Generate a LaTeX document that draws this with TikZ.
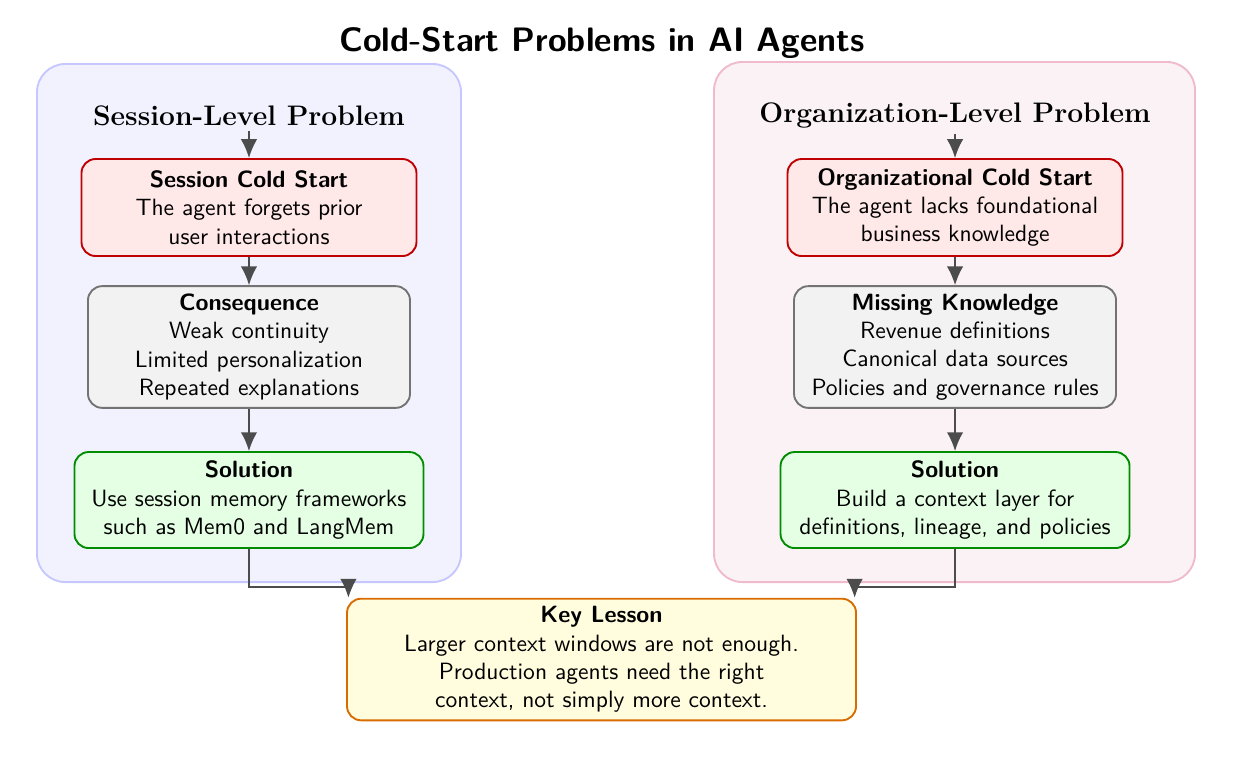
\documentclass[tikz,border=0pt]{standalone}
\usetikzlibrary{arrows.meta,positioning}
\definecolor{orgfill}{RGB}{250,242,245}
\definecolor{orgdraw}{RGB}{240,186,206}

\begin{document}
\begin{tikzpicture}[
      font=\sffamily,
      panel/.style={rounded corners=12pt, line width=0.8pt},
      box/.style={draw, rounded corners=6pt, line width=0.8pt, align=center},
      problem/.style={box, draw=red!75!black, fill=red!9},
      effect/.style={box, draw=black!55, fill=black!5},
      fix/.style={box, draw=green!55!black, fill=green!10},
      lesson/.style={box, draw=orange!85!black, fill=yellow!13},
      head/.style={font=\rmfamily\bfseries\large, inner sep=2pt},
      arr/.style={-{Latex[length=8pt,width=7pt]}, draw=black!70, line width=0.8pt}
    ]
    \useasboundingbox (0,0) rectangle (18.507,-11.463);

    % the two panels
    \draw[panel, draw=blue!22, fill=blue!5] (0.552,-0.955) rectangle (6.881,-8.687);
    \draw[panel, draw=orgdraw, fill=orgfill] (10.657,-0.925) rectangle (17.836,-8.687);

    \node[font=\sffamily\bfseries\Large] (title) at (8.985,-0.64) {Cold-Start Problems in AI Agents};

    % session side
    \node[head] (sesshead) at (3.716,-1.73) {Session-Level Problem};
    \node[problem, minimum width=5.0cm, minimum height=1.448cm] (sesscold) at (3.716,-3.097)
      {\textbf{Session Cold Start}\\The agent forgets prior\\user interactions};
    \node[effect, minimum width=4.806cm, minimum height=1.791cm] (sessimpact) at (3.716,-5.179)
      {\textbf{Consequence}\\Weak continuity\\Limited personalization\\Repeated explanations};
    \node[fix, minimum width=5.209cm, minimum height=1.433cm] (sessfix) at (3.716,-7.463)
      {\textbf{Solution}\\Use session memory frameworks\\such as Mem0 and LangMem};

    % organization side
    \node[head] (orghead) at (14.254,-1.73) {Organization-Level Problem};
    \node[problem, minimum width=5.0cm, minimum height=1.448cm] (orgcold) at (14.254,-3.097)
      {\textbf{Organizational Cold Start}\\The agent lacks foundational\\business knowledge};
    \node[effect, minimum width=4.806cm, minimum height=1.791cm] (orgmiss) at (14.254,-5.179)
      {\textbf{Missing Knowledge}\\Revenue definitions\\Canonical data sources\\Policies and governance rules};
    \node[fix, minimum width=5.209cm, minimum height=1.433cm] (orgfix) at (14.254,-7.463)
      {\textbf{Solution}\\Build a context layer for\\definitions, lineage, and policies};

    \node[lesson, minimum width=7.597cm, minimum height=1.806cm] (key) at (8.978,-9.843)
      {\textbf{Key Lesson}\\Larger context windows are not enough.\\Production agents need the right\\context, not simply more context.};

    \draw[arr] (sesshead) -- (sesscold);
    \draw[arr] (sesscold) -- (sessimpact);
    \draw[arr] (sessimpact) -- (sessfix);
    \draw[arr] (orghead) -- (orgcold);
    \draw[arr] (orgcold) -- (orgmiss);
    \draw[arr] (orgmiss) -- (orgfix);
    \draw[arr] (sessfix.south) -- ++(0,-0.567) -| ([xshift=1pt]key.north west);
    \draw[arr] (orgfix.south) -- ++(0,-0.567) -| ([xshift=-1pt]key.north east);
  \end{tikzpicture}
\end{document}
